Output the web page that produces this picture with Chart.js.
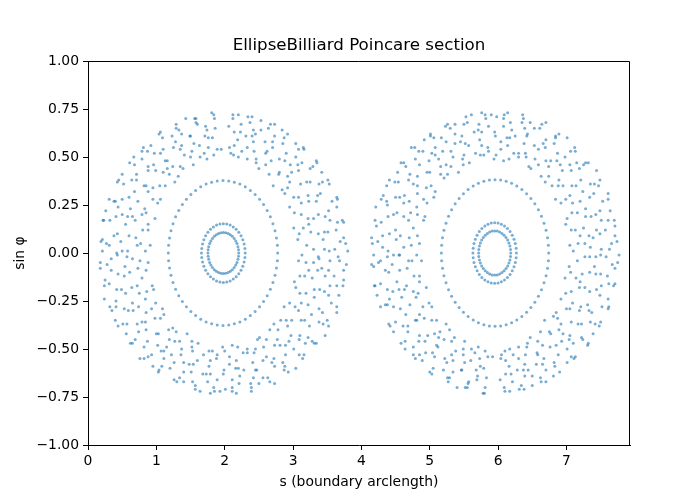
<!DOCTYPE html>
<html>
<head>
<meta charset="utf-8">
<script src="https://cdn.jsdelivr.net/npm/chart.js@4"></script>
<style>
  html, body { margin: 0; padding: 0; background: #fff; }
</style>
</head>
<body>
<canvas id="poincare" width="700" height="500"></canvas>
<script>
// axis ticks
const xTicks = [0, 1, 2, 3, 4, 5, 6, 7];
const xTickLabels = ["0", "1", "2", "3", "4", "5", "6", "7"];
const yTicks = [-1, -0.75, -0.5, -0.25, 0, 0.25, 0.5, 0.75, 1];
const yTickLabels = ["\u22121.00", "\u22120.75", "\u22120.50", "\u22120.25", "0.00", "0.25", "0.50", "0.75", "1.00"];
const xMax = 7.93; // boundary perimeter

// left island (around s ~ 2), points as [s, sin phi]
const leftRingInner = [
  [2.205,0.000],[2.202,0.017],[2.194,0.033],[2.180,0.049],[2.162,0.063],[2.139,0.076],[2.112,0.087],[2.082,0.095],[2.050,0.102],[2.015,0.106],
  [1.980,0.107],[1.945,0.106],[1.910,0.102],[1.878,0.095],[1.848,0.087],[1.821,0.076],[1.798,0.063],[1.780,0.049],[1.766,0.033],[1.758,0.017],
  [1.755,0.000],[1.758,-0.017],[1.766,-0.033],[1.780,-0.049],[1.798,-0.063],[1.821,-0.076],[1.848,-0.087],[1.878,-0.095],[1.910,-0.102],[1.945,-0.106],
  [1.980,-0.107],[2.015,-0.106],[2.050,-0.102],[2.082,-0.095],[2.112,-0.087],[2.139,-0.076],[2.162,-0.063],[2.180,-0.049],[2.194,-0.033],[2.202,-0.017]
];
const leftRingOuter = [
  [2.300,0.000],[2.296,0.024],[2.284,0.047],[2.265,0.069],[2.239,0.090],[2.206,0.108],[2.168,0.124],[2.125,0.136],[2.079,0.146],[2.030,0.151],
  [1.980,0.153],[1.930,0.151],[1.881,0.146],[1.835,0.136],[1.792,0.124],[1.754,0.108],[1.721,0.090],[1.695,0.069],[1.676,0.047],[1.664,0.024],
  [1.660,0.000],[1.664,-0.024],[1.676,-0.047],[1.695,-0.069],[1.721,-0.090],[1.754,-0.108],[1.792,-0.124],[1.835,-0.136],[1.881,-0.146],[1.930,-0.151],
  [1.980,-0.153],[2.030,-0.151],[2.079,-0.146],[2.125,-0.136],[2.168,-0.124],[2.206,-0.108],[2.239,-0.090],[2.265,-0.069],[2.284,-0.047],[2.296,-0.024]
];
const leftRingMid = [
  [2.775,0],[2.771,0.040],[2.757,0.078],[2.736,0.116],[2.706,0.153],[2.668,0.189],[2.622,0.222],[2.569,0.252],[2.510,0.280],[2.445,0.305],[2.375,0.326],[2.301,0.345],[2.222,0.359],[2.141,0.369],[2.059,0.375],
  [1.975,0.377],[1.891,0.375],[1.809,0.369],[1.728,0.359],[1.649,0.345],[1.575,0.326],[1.505,0.305],[1.440,0.280],[1.381,0.252],[1.328,0.222],[1.282,0.189],[1.244,0.153],[1.214,0.116],[1.193,0.078],[1.179,0.040],
  [1.175,0],[1.179,-0.040],[1.193,-0.078],[1.214,-0.116],[1.244,-0.153],[1.282,-0.189],[1.328,-0.222],[1.381,-0.252],[1.440,-0.280],[1.505,-0.305],[1.575,-0.326],[1.649,-0.345],[1.728,-0.359],[1.809,-0.369],[1.891,-0.375],
  [1.975,-0.377],[2.059,-0.375],[2.141,-0.369],[2.222,-0.359],[2.301,-0.345],[2.375,-0.326],[2.445,-0.305],[2.510,-0.280],[2.569,-0.252],[2.622,-0.222],[2.668,-0.189],[2.706,-0.153],[2.736,-0.116],[2.757,-0.078],[2.771,-0.040]
];
const leftChaos = [
  // upper right
  [3.13,-0.01],[3.07,0.07],[3.09,0.10],[3.01,0.13],[3.02,0.21],[2.95,0.24],[2.88,0.31],[2.84,0.33],[2.71,0.35],[2.65,0.41],[2.50,0.44],[2.46,0.47],[2.33,0.49],[2.20,0.50],[2.13,0.51],
  [3.30,0.02],[3.26,0.11],[3.23,0.15],[3.22,0.18],[3.12,0.26],[3.08,0.29],[2.95,0.37],[2.92,0.40],[2.80,0.42],[2.68,0.48],[2.60,0.52],[2.43,0.53],[2.33,0.55],[2.14,0.56],[2.07,0.55],
  [3.46,0.02],[3.44,0.07],[3.46,0.11],[3.37,0.20],[3.34,0.27],[3.22,0.30],[3.20,0.37],[3.08,0.43],[2.96,0.46],[2.88,0.48],[2.70,0.55],[2.59,0.58],[2.40,0.61],[2.31,0.61],[2.14,0.63],
  [3.61,0.02],[3.63,0.12],[3.54,0.17],[3.52,0.22],[3.40,0.31],[3.38,0.36],[3.25,0.44],[3.13,0.47],[3.04,0.50],[2.85,0.57],[2.73,0.61],[2.53,0.64],[2.42,0.64],[2.24,0.67],[2.06,0.66],
  [3.80,0.01],[3.74,0.08],[3.74,0.16],[3.64,0.24],[3.64,0.29],[3.53,0.36],[3.42,0.42],[3.34,0.48],[3.16,0.54],[3.04,0.57],[2.84,0.64],[2.73,0.67],[2.53,0.69],[2.34,0.71],[2.20,0.72],
  [3.20,0.04],[3.15,0.13],[3.12,0.20],[3.01,0.29],[2.92,0.34],[2.79,0.41],[2.60,0.46],[2.46,0.49],[2.25,0.53],[2.09,0.52],
  [3.53,0.01],[3.51,0.11],[3.47,0.19],[3.36,0.30],[3.25,0.37],[3.07,0.46],[2.90,0.52],[2.70,0.58],[2.45,0.62],[2.23,0.63],
  [3.69,0.06],[3.65,0.16],[3.57,0.27],[3.43,0.37],[3.29,0.45],[3.08,0.54],[2.87,0.60],[2.64,0.65],[2.37,0.68],[2.12,0.70],
  [3.37,-0.02],[3.37,0.10],[3.30,0.18],[3.23,0.27],[3.11,0.36],[2.98,0.42],[2.80,0.49],[2.62,0.53],[2.42,0.58],[2.19,0.59],
  // upper left
  [0.84,0.01],[0.91,0.04],[0.88,0.12],[0.88,0.15],[0.98,0.18],[1.02,0.26],[1.06,0.28],[1.13,0.35],[1.27,0.37],[1.32,0.40],[1.39,0.44],[1.54,0.46],[1.64,0.50],[1.74,0.49],[1.84,0.51],
  [0.72,0.04],[0.70,0.08],[0.69,0.17],[0.79,0.20],[0.83,0.23],[0.88,0.32],[0.95,0.34],[1.10,0.42],[1.16,0.44],[1.24,0.45],[1.41,0.51],[1.52,0.53],[1.63,0.56],[1.76,0.55],[1.95,0.54],
  [0.50,0.01],[0.48,0.06],[0.55,0.15],[0.58,0.19],[0.62,0.23],[0.68,0.32],[0.82,0.35],[0.88,0.43],[0.96,0.46],[1.13,0.48],[1.25,0.55],[1.37,0.56],[1.50,0.61],[1.71,0.61],[1.82,0.60],
  [0.31,0.04],[0.38,0.09],[0.41,0.19],[0.44,0.24],[0.50,0.28],[0.64,0.38],[0.71,0.41],[0.79,0.49],[0.97,0.52],[1.10,0.54],[1.23,0.61],[1.37,0.62],[1.60,0.67],[1.72,0.66],[1.86,0.65],
  [0.21,0.01],[0.21,0.07],[0.22,0.17],[0.26,0.22],[0.38,0.27],[0.43,0.37],[0.50,0.41],[0.67,0.50],[0.79,0.53],[0.92,0.56],[1.06,0.63],[1.29,0.65],[1.43,0.70],[1.58,0.70],[1.81,0.73],
  [0.77,0.05],[0.80,0.12],[0.85,0.21],[0.95,0.28],[1.05,0.35],[1.19,0.41],[1.35,0.45],[1.50,0.50],[1.70,0.52],[1.89,0.54],
  [0.42,0.00],[0.43,0.10],[0.50,0.20],[0.60,0.29],[0.71,0.38],[0.88,0.45],[1.06,0.52],[1.28,0.58],[1.49,0.61],[1.74,0.64],
  [0.27,0.05],[0.32,0.17],[0.40,0.27],[0.52,0.36],[0.68,0.46],[0.87,0.53],[1.09,0.60],[1.33,0.64],[1.58,0.68],[1.85,0.70],
  [0.58,0.01],[0.60,0.09],[0.65,0.19],[0.73,0.27],[0.85,0.35],[0.99,0.43],[1.16,0.48],[1.35,0.54],[1.55,0.57],[1.76,0.60],
  // lower left
  [0.88,-0.05],[0.85,-0.09],[0.94,-0.17],[0.96,-0.19],[0.99,-0.26],[1.09,-0.29],[1.11,-0.32],[1.24,-0.39],[1.29,-0.41],[1.45,-0.42],[1.52,-0.46],[1.61,-0.47],[1.77,-0.51],[1.82,-0.51],[1.97,-0.49],
  [0.65,-0.03],[0.73,-0.08],[0.72,-0.17],[0.75,-0.21],[0.84,-0.24],[0.85,-0.31],[0.98,-0.34],[1.03,-0.42],[1.19,-0.45],[1.27,-0.46],[1.37,-0.50],[1.53,-0.51],[1.60,-0.56],[1.79,-0.56],[1.88,-0.55],
  [0.54,-0.07],[0.53,-0.12],[0.55,-0.21],[0.65,-0.26],[0.66,-0.30],[0.79,-0.36],[0.85,-0.40],[1.02,-0.48],[1.11,-0.51],[1.22,-0.53],[1.40,-0.57],[1.48,-0.58],[1.68,-0.63],[1.79,-0.63],[1.99,-0.61],
  [0.34,-0.03],[0.34,-0.09],[0.42,-0.19],[0.41,-0.25],[0.53,-0.29],[0.57,-0.37],[0.74,-0.41],[0.82,-0.49],[0.93,-0.53],[1.11,-0.55],[1.20,-0.60],[1.40,-0.62],[1.53,-0.67],[1.75,-0.67],[1.89,-0.66],
  [0.18,-0.08],[0.25,-0.14],[0.24,-0.24],[0.35,-0.30],[0.40,-0.35],[0.56,-0.42],[0.65,-0.47],[0.76,-0.55],[0.95,-0.59],[1.04,-0.61],[1.26,-0.66],[1.40,-0.67],[1.64,-0.72],[1.79,-0.73],[1.93,-0.72],
  [0.76,-0.04],[0.79,-0.13],[0.86,-0.20],[0.93,-0.29],[1.06,-0.34],[1.18,-0.40],[1.34,-0.46],[1.52,-0.49],[1.69,-0.53],[1.89,-0.53],
  [0.43,-0.01],[0.44,-0.11],[0.49,-0.19],[0.59,-0.30],[0.72,-0.37],[0.87,-0.46],[1.07,-0.51],[1.26,-0.57],[1.51,-0.62],[1.73,-0.63],
  [0.28,-0.06],[0.31,-0.16],[0.41,-0.28],[0.51,-0.37],[0.69,-0.45],[0.88,-0.54],[1.08,-0.59],[1.34,-0.65],[1.57,-0.69],[1.84,-0.70],
  [0.57,-0.02],[0.61,-0.10],[0.64,-0.18],[0.74,-0.28],[0.84,-0.36],[1.00,-0.42],[1.15,-0.49],[1.36,-0.53],[1.54,-0.58],[1.77,-0.59],
  // lower right
  [3.08,-0.04],[3.10,-0.12],[3.02,-0.15],[3.04,-0.18],[2.95,-0.26],[2.87,-0.28],[2.82,-0.35],[2.72,-0.37],[2.66,-0.40],[2.51,-0.44],[2.48,-0.45],[2.33,-0.50],[2.19,-0.49],[2.11,-0.48],[2.00,-0.51],
  [3.30,-0.05],[3.23,-0.09],[3.28,-0.13],[3.19,-0.21],[3.12,-0.26],[3.08,-0.30],[2.98,-0.35],[2.92,-0.38],[2.77,-0.45],[2.73,-0.48],[2.57,-0.49],[2.43,-0.52],[2.33,-0.52],[2.17,-0.56],[2.07,-0.58],
  [3.42,-0.08],[3.47,-0.12],[3.39,-0.19],[3.31,-0.23],[3.27,-0.32],[3.17,-0.35],[3.10,-0.43],[2.94,-0.46],[2.89,-0.48],[2.72,-0.55],[2.56,-0.56],[2.45,-0.61],[2.28,-0.61],[2.16,-0.60],[1.98,-0.63],
  [3.66,-0.02],[3.60,-0.12],[3.54,-0.17],[3.52,-0.22],[3.43,-0.31],[3.38,-0.36],[3.22,-0.44],[3.18,-0.47],[3.01,-0.50],[2.85,-0.57],[2.73,-0.59],[2.56,-0.65],[2.42,-0.65],[2.21,-0.68],[2.11,-0.66],
  [3.74,-0.09],[3.74,-0.14],[3.67,-0.22],[3.64,-0.31],[3.50,-0.35],[3.47,-0.43],[3.31,-0.47],[3.16,-0.53],[3.04,-0.60],[2.87,-0.61],[2.73,-0.68],[2.50,-0.68],[2.39,-0.72],[2.17,-0.73],[2.01,-0.71],
  [3.19,-0.05],[3.17,-0.12],[3.10,-0.21],[3.03,-0.28],[2.90,-0.35],[2.78,-0.40],[2.61,-0.45],[2.45,-0.50],[2.27,-0.52],[2.07,-0.54],
  [3.54,-0.04],[3.52,-0.09],[3.46,-0.20],[3.38,-0.29],[3.24,-0.38],[3.09,-0.45],[2.89,-0.53],[2.69,-0.57],[2.47,-0.61],[2.22,-0.64],
  [3.68,-0.04],[3.64,-0.17],[3.56,-0.26],[3.44,-0.37],[3.28,-0.46],[3.09,-0.53],[2.88,-0.59],[2.63,-0.65],[2.38,-0.68],[2.11,-0.70],
  [3.38,-0.03],[3.36,-0.09],[3.31,-0.19],[3.22,-0.27],[3.12,-0.35],[2.97,-0.43],[2.81,-0.48],[2.61,-0.54],[2.41,-0.57],[2.20,-0.60]
];
const leftEdge = [
  [3.77,0.05],[3.72,0.17],[3.65,0.28],[3.51,0.38],[3.35,0.47],[3.15,0.55],[2.92,0.62],[2.67,0.67],[2.40,0.71],[2.12,0.72],
  [0.19,0.06],[0.23,0.17],[0.31,0.28],[0.45,0.38],[0.61,0.47],[0.81,0.55],[1.04,0.62],[1.29,0.67],[1.56,0.70],[1.84,0.72],
  [0.18,-0.05],[0.24,-0.17],[0.32,-0.28],[0.44,-0.38],[0.62,-0.47],[0.82,-0.55],[1.03,-0.62],[1.30,-0.67],[1.57,-0.71],[1.85,-0.72],
  [3.78,-0.06],[3.73,-0.17],[3.64,-0.28],[3.52,-0.38],[3.34,-0.47],[3.14,-0.55],[2.93,-0.62],[2.66,-0.67],[2.39,-0.70],[2.11,-0.72]
];

// right island (around s ~ 6)
const rightRingInner = [
  [6.185,0],[6.182,0.018],[6.173,0.036],[6.159,0.052],[6.140,0.068],[6.116,0.081],[6.088,0.093],[6.057,0.102],[6.023,0.109],[5.987,0.114],
  [5.950,0.115],[5.913,0.114],[5.877,0.109],[5.843,0.102],[5.812,0.093],[5.784,0.081],[5.760,0.068],[5.741,0.052],[5.727,0.036],[5.718,0.018],
  [5.715,0],[5.718,-0.018],[5.727,-0.036],[5.741,-0.052],[5.760,-0.068],[5.784,-0.081],[5.812,-0.093],[5.843,-0.102],[5.877,-0.109],[5.913,-0.114],
  [5.950,-0.115],[5.987,-0.114],[6.023,-0.109],[6.057,-0.102],[6.088,-0.093],[6.116,-0.081],[6.140,-0.068],[6.159,-0.052],[6.173,-0.036],[6.182,-0.018]
];
const rightRingOuter = [
  [6.268,0],[6.264,0.025],[6.252,0.049],[6.233,0.072],[6.207,0.093],[6.175,0.112],[6.137,0.128],[6.094,0.141],[6.048,0.150],[6.000,0.156],
  [5.950,0.158],[5.900,0.156],[5.852,0.150],[5.806,0.141],[5.763,0.128],[5.725,0.112],[5.693,0.093],[5.667,0.072],[5.648,0.049],[5.636,0.025],
  [5.632,0],[5.636,-0.025],[5.648,-0.049],[5.667,-0.072],[5.693,-0.093],[5.725,-0.112],[5.763,-0.128],[5.806,-0.141],[5.852,-0.150],[5.900,-0.156],
  [5.950,-0.158],[6.000,-0.156],[6.048,-0.150],[6.094,-0.141],[6.137,-0.128],[6.175,-0.112],[6.207,-0.093],[6.233,-0.072],[6.252,-0.049],[6.264,-0.025]
];
const rightRingMid = [
  [6.740,0],[6.736,0.040],[6.723,0.079],[6.702,0.118],[6.672,0.155],[6.635,0.191],[6.590,0.225],[6.538,0.256],[6.480,0.284],[6.417,0.309],[6.348,0.331],[6.274,0.349],[6.198,0.363],[6.118,0.374],[6.037,0.380],
  [5.955,0.382],[5.873,0.380],[5.792,0.374],[5.712,0.363],[5.636,0.349],[5.562,0.331],[5.493,0.309],[5.430,0.284],[5.372,0.256],[5.320,0.225],[5.275,0.191],[5.238,0.155],[5.208,0.118],[5.187,0.079],[5.174,0.040],
  [5.170,0],[5.174,-0.040],[5.187,-0.079],[5.208,-0.118],[5.238,-0.155],[5.275,-0.191],[5.320,-0.225],[5.372,-0.256],[5.430,-0.284],[5.493,-0.309],[5.562,-0.331],[5.636,-0.349],[5.712,-0.363],[5.792,-0.374],[5.873,-0.380],
  [5.955,-0.382],[6.037,-0.380],[6.118,-0.374],[6.198,-0.363],[6.274,-0.349],[6.348,-0.331],[6.417,-0.309],[6.480,-0.284],[6.538,-0.256],[6.590,-0.225],[6.635,-0.191],[6.672,-0.155],[6.702,-0.118],[6.723,-0.079],[6.736,-0.040]
];
const rightChaos = [
  // upper right
  [7.05,0.04],[7.07,0.12],[6.99,0.15],[7.01,0.18],[6.92,0.26],[6.84,0.28],[6.79,0.35],[6.69,0.37],[6.63,0.40],[6.48,0.44],[6.45,0.45],[6.30,0.50],[6.16,0.49],[6.08,0.48],[5.97,0.51],
  [7.27,0.05],[7.20,0.09],[7.25,0.13],[7.16,0.21],[7.09,0.26],[7.05,0.30],[6.95,0.35],[6.89,0.38],[6.74,0.45],[6.70,0.48],[6.54,0.49],[6.40,0.52],[6.30,0.52],[6.14,0.56],[6.04,0.58],
  [7.39,0.08],[7.44,0.12],[7.36,0.19],[7.28,0.23],[7.24,0.32],[7.14,0.35],[7.07,0.43],[6.91,0.46],[6.86,0.48],[6.69,0.55],[6.53,0.56],[6.42,0.61],[6.25,0.61],[6.13,0.60],[5.95,0.63],
  [7.63,0.02],[7.57,0.12],[7.51,0.17],[7.49,0.22],[7.40,0.31],[7.35,0.36],[7.19,0.44],[7.15,0.47],[6.98,0.50],[6.82,0.57],[6.70,0.59],[6.53,0.65],[6.39,0.65],[6.18,0.68],[6.08,0.66],
  [7.71,0.09],[7.71,0.14],[7.64,0.22],[7.61,0.31],[7.47,0.35],[7.44,0.43],[7.28,0.47],[7.13,0.53],[7.01,0.60],[6.84,0.61],[6.70,0.68],[6.47,0.68],[6.36,0.72],[6.14,0.73],[5.98,0.71],
  [7.17,0.05],[7.13,0.12],[7.08,0.21],[6.99,0.28],[6.88,0.35],[6.74,0.40],[6.59,0.46],[6.41,0.50],[6.23,0.52],[6.04,0.54],
  [7.51,0.02],[7.49,0.10],[7.43,0.20],[7.34,0.29],[7.21,0.38],[7.05,0.46],[6.87,0.52],[6.66,0.57],[6.43,0.62],[6.20,0.64],
  [7.66,0.05],[7.61,0.17],[7.53,0.27],[7.41,0.36],[7.25,0.46],[7.06,0.53],[6.84,0.60],[6.61,0.65],[6.35,0.68],[6.08,0.70],
  [7.35,0.03],[7.33,0.09],[7.28,0.19],[7.20,0.27],[7.08,0.35],[6.94,0.43],[6.77,0.48],[6.59,0.54],[6.38,0.57],[6.17,0.60],
  // upper left
  [4.85,0.05],[4.82,0.09],[4.91,0.17],[4.93,0.19],[4.96,0.26],[5.06,0.29],[5.08,0.32],[5.21,0.39],[5.26,0.41],[5.42,0.42],[5.49,0.46],[5.58,0.47],[5.74,0.51],[5.79,0.51],[5.94,0.49],
  [4.62,0.03],[4.70,0.08],[4.69,0.17],[4.72,0.21],[4.81,0.24],[4.82,0.31],[4.95,0.34],[5.00,0.42],[5.16,0.45],[5.24,0.46],[5.34,0.50],[5.50,0.51],[5.57,0.56],[5.76,0.56],[5.85,0.55],
  [4.51,0.07],[4.50,0.12],[4.52,0.21],[4.62,0.26],[4.63,0.30],[4.76,0.36],[4.82,0.40],[4.99,0.48],[5.08,0.51],[5.19,0.53],[5.37,0.57],[5.45,0.58],[5.65,0.63],[5.76,0.63],[5.96,0.61],
  [4.31,0.03],[4.31,0.09],[4.39,0.19],[4.38,0.25],[4.50,0.29],[4.54,0.37],[4.71,0.41],[4.79,0.49],[4.90,0.53],[5.08,0.55],[5.17,0.60],[5.37,0.62],[5.50,0.67],[5.72,0.67],[5.86,0.66],
  [4.15,0.08],[4.22,0.14],[4.21,0.24],[4.32,0.30],[4.37,0.35],[4.53,0.42],[4.62,0.47],[4.73,0.55],[4.92,0.59],[5.01,0.61],[5.23,0.66],[5.37,0.67],[5.61,0.72],[5.76,0.73],[5.90,0.72],
  [4.73,0.04],[4.76,0.13],[4.82,0.20],[4.91,0.28],[5.02,0.35],[5.16,0.41],[5.31,0.45],[5.48,0.49],[5.67,0.52],[5.86,0.53],
  [4.39,0.01],[4.41,0.10],[4.47,0.20],[4.56,0.29],[4.69,0.38],[4.85,0.46],[5.03,0.52],[5.24,0.58],[5.47,0.61],[5.71,0.64],
  [4.24,0.06],[4.29,0.16],[4.37,0.27],[4.49,0.37],[4.65,0.45],[4.84,0.53],[5.06,0.60],[5.30,0.65],[5.55,0.68],[5.82,0.70],
  [4.55,-0.01],[4.57,0.09],[4.62,0.19],[4.70,0.27],[4.82,0.35],[4.96,0.42],[5.13,0.49],[5.31,0.53],[5.52,0.57],[5.73,0.59],
  // lower left
  [4.81,-0.01],[4.88,-0.04],[4.85,-0.12],[4.85,-0.15],[4.95,-0.18],[4.99,-0.26],[5.03,-0.28],[5.10,-0.35],[5.24,-0.37],[5.29,-0.40],[5.36,-0.44],[5.51,-0.46],[5.61,-0.50],[5.71,-0.49],[5.81,-0.51],
  [4.69,-0.04],[4.67,-0.08],[4.66,-0.17],[4.76,-0.20],[4.80,-0.23],[4.85,-0.32],[4.92,-0.34],[5.07,-0.42],[5.13,-0.44],[5.21,-0.45],[5.38,-0.51],[5.49,-0.53],[5.60,-0.56],[5.73,-0.55],[5.92,-0.54],
  [4.47,-0.01],[4.45,-0.06],[4.52,-0.15],[4.55,-0.19],[4.59,-0.23],[4.65,-0.32],[4.79,-0.35],[4.85,-0.43],[4.93,-0.46],[5.10,-0.48],[5.22,-0.55],[5.34,-0.56],[5.47,-0.61],[5.68,-0.61],[5.79,-0.60],
  [4.28,-0.04],[4.35,-0.09],[4.38,-0.19],[4.41,-0.24],[4.47,-0.28],[4.61,-0.38],[4.68,-0.41],[4.76,-0.49],[4.94,-0.52],[5.07,-0.54],[5.20,-0.61],[5.34,-0.62],[5.57,-0.67],[5.69,-0.66],[5.83,-0.65],
  [4.18,-0.01],[4.18,-0.07],[4.19,-0.17],[4.23,-0.22],[4.35,-0.27],[4.40,-0.37],[4.47,-0.41],[4.64,-0.50],[4.76,-0.53],[4.89,-0.56],[5.03,-0.63],[5.26,-0.65],[5.40,-0.70],[5.55,-0.70],[5.78,-0.73],
  [4.74,-0.04],[4.77,-0.12],[4.83,-0.21],[4.90,-0.28],[5.03,-0.35],[5.15,-0.41],[5.32,-0.46],[5.49,-0.50],[5.66,-0.52],[5.85,-0.54],
  [4.38,-0.02],[4.40,-0.10],[4.46,-0.20],[4.57,-0.29],[4.68,-0.38],[4.84,-0.46],[5.04,-0.52],[5.25,-0.57],[5.46,-0.61],[5.70,-0.64],
  [4.25,-0.05],[4.28,-0.16],[4.38,-0.27],[4.50,-0.36],[4.64,-0.46],[4.85,-0.53],[5.05,-0.60],[5.29,-0.65],[5.56,-0.68],[5.81,-0.70],
  [4.56,-0.01],[4.56,-0.09],[4.63,-0.19],[4.71,-0.27],[4.81,-0.35],[4.97,-0.43],[5.12,-0.49],[5.32,-0.53],[5.51,-0.57],[5.74,-0.59],
  // lower right
  [7.10,0.01],[7.04,-0.07],[7.06,-0.10],[6.98,-0.13],[6.99,-0.21],[6.92,-0.24],[6.85,-0.31],[6.81,-0.33],[6.68,-0.35],[6.62,-0.41],[6.47,-0.44],[6.43,-0.47],[6.30,-0.49],[6.17,-0.50],[6.10,-0.51],
  [7.27,-0.02],[7.23,-0.11],[7.20,-0.15],[7.19,-0.18],[7.09,-0.26],[7.05,-0.29],[6.92,-0.37],[6.89,-0.40],[6.77,-0.42],[6.65,-0.48],[6.57,-0.52],[6.40,-0.53],[6.30,-0.55],[6.11,-0.56],[6.04,-0.55],
  [7.43,-0.02],[7.41,-0.07],[7.43,-0.11],[7.34,-0.20],[7.31,-0.27],[7.19,-0.30],[7.17,-0.37],[7.05,-0.43],[6.93,-0.46],[6.85,-0.48],[6.67,-0.55],[6.56,-0.58],[6.37,-0.61],[6.28,-0.61],[6.11,-0.63],
  [7.58,-0.02],[7.60,-0.12],[7.51,-0.17],[7.49,-0.22],[7.37,-0.31],[7.35,-0.36],[7.22,-0.44],[7.10,-0.47],[7.01,-0.50],[6.82,-0.57],[6.70,-0.61],[6.50,-0.64],[6.39,-0.64],[6.21,-0.67],[6.03,-0.66],
  [7.77,-0.01],[7.71,-0.08],[7.71,-0.16],[7.61,-0.24],[7.61,-0.29],[7.50,-0.36],[7.39,-0.42],[7.31,-0.48],[7.13,-0.54],[7.01,-0.57],[6.81,-0.64],[6.70,-0.67],[6.50,-0.69],[6.31,-0.71],[6.17,-0.72],
  [7.16,-0.04],[7.14,-0.13],[7.07,-0.20],[7.00,-0.29],[6.87,-0.34],[6.75,-0.41],[6.58,-0.46],[6.42,-0.49],[6.22,-0.53],[6.05,-0.53],
  [7.50,-0.01],[7.50,-0.11],[7.44,-0.19],[7.33,-0.30],[7.22,-0.37],[7.04,-0.45],[6.88,-0.53],[6.65,-0.58],[6.44,-0.61],[6.19,-0.63],
  [7.67,-0.06],[7.62,-0.16],[7.52,-0.28],[7.42,-0.37],[7.24,-0.45],[7.07,-0.54],[6.83,-0.59],[6.62,-0.65],[6.34,-0.69],[6.09,-0.70],
  [7.34,-0.02],[7.34,-0.10],[7.27,-0.18],[7.21,-0.28],[7.07,-0.36],[6.95,-0.42],[6.76,-0.49],[6.58,-0.53],[6.39,-0.58],[6.16,-0.59]
];
const rightEdge = [
  [7.74,0.06],[7.70,0.17],[7.61,0.28],[7.49,0.38],[7.32,0.47],[7.12,0.55],[6.89,0.62],[6.64,0.67],[6.37,0.70],[6.09,0.72],
  [4.16,0.05],[4.20,0.17],[4.29,0.28],[4.41,0.38],[4.58,0.47],[4.78,0.55],[5.01,0.62],[5.26,0.67],[5.53,0.71],[5.81,0.72],
  [4.15,-0.06],[4.20,-0.17],[4.28,-0.28],[4.42,-0.38],[4.58,-0.47],[4.79,-0.55],[5.00,-0.62],[5.27,-0.67],[5.52,-0.70],[5.80,-0.73],
  [7.75,-0.05],[7.69,-0.17],[7.62,-0.28],[7.48,-0.38],[7.32,-0.47],[7.11,-0.55],[6.90,-0.62],[6.63,-0.67],[6.38,-0.71],[6.10,-0.72]
];

const allPoints = [
  ...leftRingInner, ...leftRingOuter, ...leftRingMid, ...leftChaos, ...leftEdge,
  ...rightRingInner, ...rightRingOuter, ...rightRingMid, ...rightChaos, ...rightEdge
].map(([s, p]) => ({ x: s, y: p }));

const font = "'DejaVu Sans', sans-serif";

// top and right spines (left/bottom come from the axis borders)
const framePlugin = {
  id: "frame",
  afterDraw(chart) {
    const { ctx, chartArea: a } = chart;
    ctx.save();
    ctx.strokeStyle = "#000";
    ctx.lineWidth = 1;
    ctx.beginPath();
    ctx.moveTo(a.left, a.top + 0.5);
    ctx.lineTo(a.right - 0.5, a.top + 0.5);
    ctx.lineTo(a.right - 0.5, a.bottom);
    ctx.stroke();
    ctx.restore();
  },
};

new Chart(document.getElementById("poincare"), {
  type: "scatter",
  data: {
    datasets: [
      {
        data: allPoints,
        backgroundColor: "rgba(31, 119, 180, 0.6)",
        borderWidth: 0,
        pointRadius: 1.5,
        pointHoverRadius: 1.5,
      },
    ],
  },
  options: {
    responsive: false,
    animation: false,
    devicePixelRatio: 1,
    layout: { padding: { left: 12, right: 70, top: 0, bottom: 0 } },
    plugins: {
      legend: { display: false },
      tooltip: { enabled: false },
      title: {
        display: true,
        fullSize: false,
        text: "EllipseBilliard Poincare section",
        color: "#000",
        font: { family: font, size: 16.67, weight: "normal" },
        padding: { top: 36, bottom: 5 },
      },
    },
    scales: {
      x: {
        type: "linear",
        min: 0,
        max: xMax,
        afterBuildTicks: (scale) => {
          scale.ticks = xTicks.map((v) => ({ value: v }));
        },
        afterFit: (scale) => {
          scale.height = 55;
        },
        ticks: {
          color: "#000",
          font: { family: font, size: 13.9 },
          padding: 3,
          maxRotation: 0,
          callback: (value) => xTickLabels[xTicks.indexOf(value)],
        },
        grid: { drawOnChartArea: false, tickLength: 5, color: "#000", tickWidth: 1 },
        border: { color: "#000", width: 1 },
        title: {
          display: true,
          text: "s (boundary arclength)",
          color: "#000",
          font: { family: font, size: 13.9 },
          padding: { top: 4, bottom: 9 },
        },
      },
      y: {
        type: "linear",
        min: -1,
        max: 1,
        afterBuildTicks: (scale) => {
          scale.ticks = yTicks.map((v) => ({ value: v }));
        },
        afterFit: (scale) => {
          scale.width = 76;
        },
        ticks: {
          color: "#000",
          font: { family: font, size: 13.9 },
          padding: 4,
          callback: (value) => yTickLabels[yTicks.indexOf(value)],
        },
        grid: { drawOnChartArea: false, tickLength: 5, color: "#000", tickWidth: 1 },
        border: { color: "#000", width: 1 },
        title: {
          display: true,
          text: "sin \u03c6",
          color: "#000",
          font: { family: font, size: 13.9 },
          padding: { top: 0, bottom: 4 },
        },
      },
    },
  },
  plugins: [framePlugin],
});
</script>
</body>
</html>
